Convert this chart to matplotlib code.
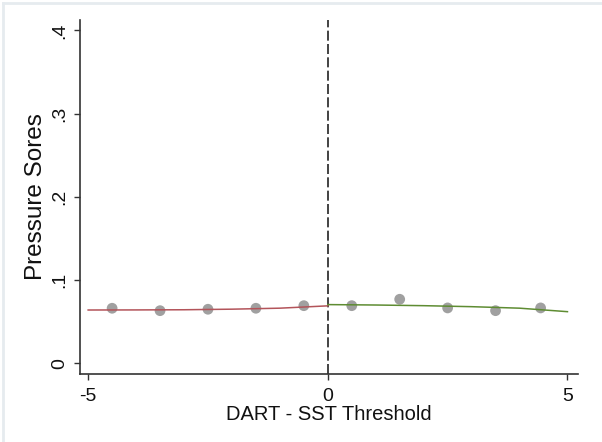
import matplotlib
matplotlib.use("Agg")
import matplotlib.pyplot as plt
from matplotlib.lines import Line2D

# Binned means of pressure-sore rate by distance to the threshold
bin_x = [-4.5, -3.5, -2.5, -1.5, -0.5, 0.5, 1.5, 2.5, 3.5, 4.44]
bin_y = [0.0661, 0.0632, 0.0649, 0.0661, 0.0692, 0.0692, 0.0769, 0.0665, 0.0632, 0.0665]

# Fitted curves on each side of the cutoff
left_x = [-5, -4, -3, -2, -1, 0]
left_y = [0.0640, 0.0641, 0.0643, 0.0650, 0.0662, 0.0690]
right_x = [0, 1, 2, 3, 4, 5]
right_y = [0.0705, 0.0700, 0.0692, 0.0680, 0.0662, 0.0620]

xticks = [-5, 0, 5]
yticks = [0, 0.1, 0.2, 0.3, 0.4]
ytick_labels = ["0", ".1", ".2", ".3", ".4"]

plt.rcParams["font.family"] = ["Liberation Sans", "DejaVu Sans"]

fig = plt.figure(figsize=(6.02, 4.42), dpi=100)
ax = fig.add_axes([80 / 602, 1 - 373.5 / 442, (578 - 80) / 602, (373.5 - 20) / 442])

ax.scatter(bin_x, bin_y, s=60, color="#a0a0a0", edgecolors="none", zorder=2)
ax.plot(left_x, left_y, color="#b3545a", lw=1.1, zorder=3)
ax.plot(right_x, right_y, color="#5e8c32", lw=1.1, zorder=3)
ax.axvline(0, color="#222222", lw=1.2, dashes=(6, 2), zorder=1)

ax.set_xlim(-5.17, 5.22)
ax.set_ylim(-0.0123, 0.4125)
ax.set_xticks(xticks)
ax.set_xticklabels([str(t) for t in xticks], fontsize=14)
ax.set_yticks(yticks)
ax.set_yticklabels(ytick_labels, fontsize=14, rotation=90, va="center")

for side in ("top", "right"):
    ax.spines[side].set_visible(False)
for side in ("left", "bottom"):
    ax.spines[side].set_color("#333333")
    ax.spines[side].set_linewidth(1.2)
ax.tick_params(axis="both", color="#333333", length=4.5, width=1.0, labelcolor="#111111")
ax.tick_params(axis="x", pad=6)
ax.tick_params(axis="y", pad=4)

ax.set_xlabel("DART - SST Threshold", fontsize=14.5, color="#111111", labelpad=0)
ax.set_ylabel("Pressure Sores", fontsize=17.5, color="#111111", labelpad=3)

# thin frame along the top and left edges of the figure
fig.add_artist(Line2D([3 / 602, 1], [1 - 3 / 442, 1 - 3 / 442], transform=fig.transFigure,
                      color="#e6ebef", lw=2))
fig.add_artist(Line2D([3 / 602, 3 / 602], [0, 1 - 3 / 442], transform=fig.transFigure,
                      color="#e6ebef", lw=2))

fig.savefig("out.png", dpi=100, facecolor="white")
